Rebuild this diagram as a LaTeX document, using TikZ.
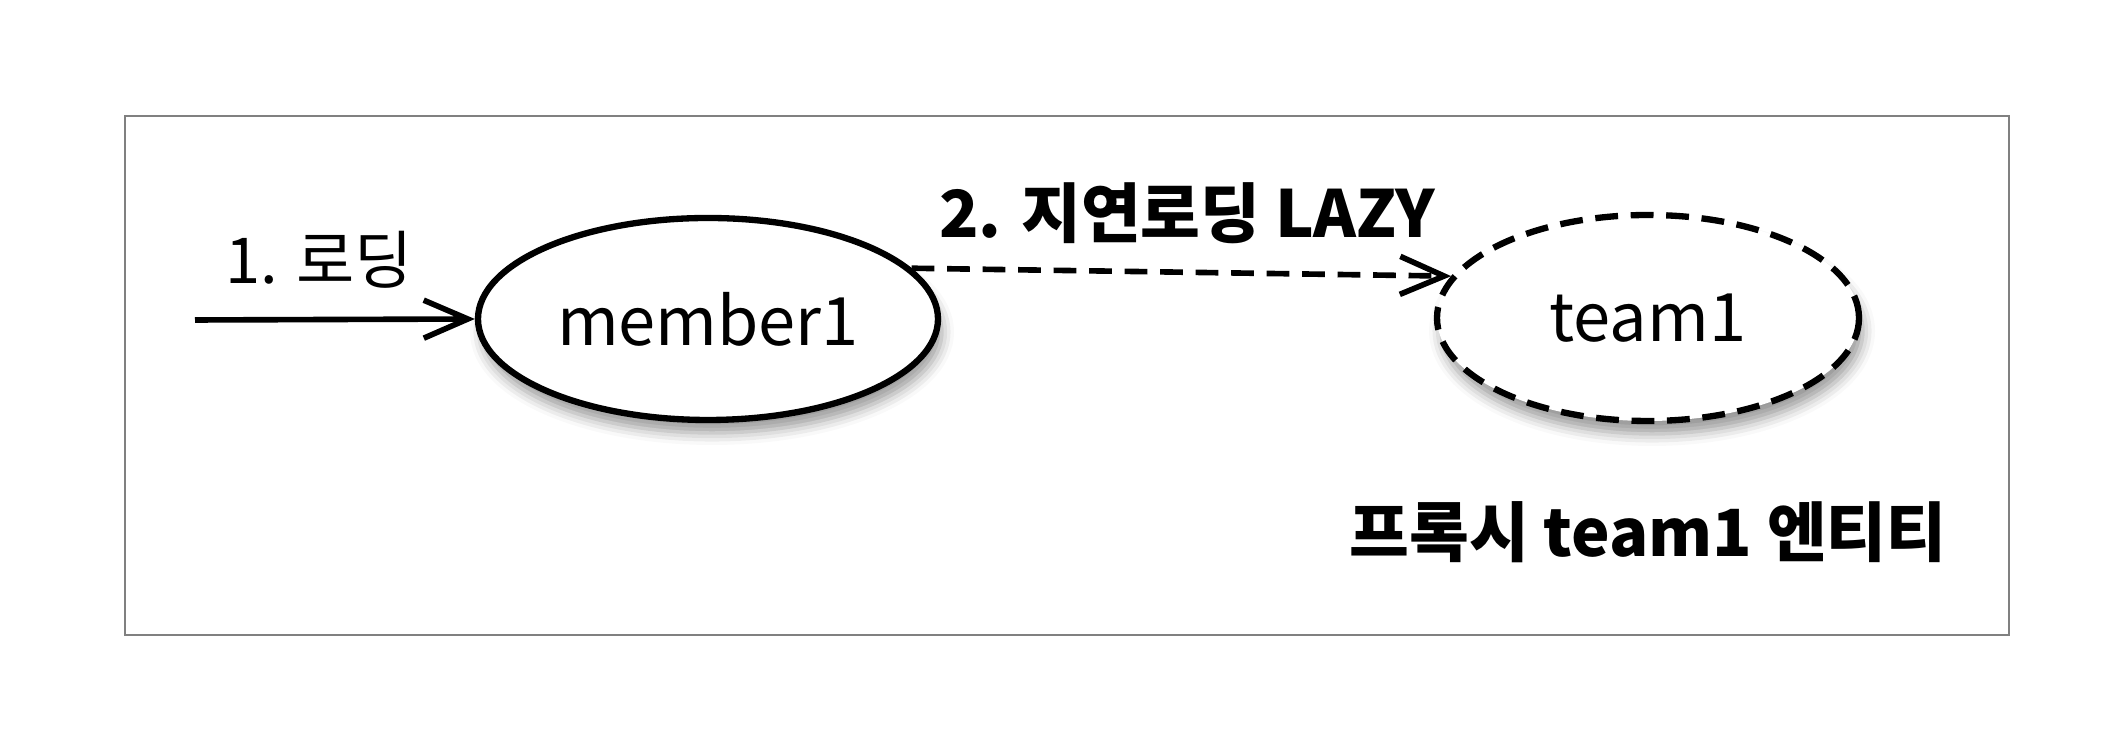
\documentclass[tikz,border=0pt]{standalone}
\usepackage{fontspec}
\setmainfont{Noto Sans CJK KR}
\usetikzlibrary{arrows.meta,shapes.geometric,shadows.blur}
\begin{document}
\begin{tikzpicture}[
        entity/.style={ellipse,draw,line width=1.8pt,fill=white,inner sep=0pt,
            font=\fontsize{19}{22}\selectfont,
            blur shadow={shadow xshift=0.4mm,shadow yshift=-1.3mm,shadow blur radius=1.2mm}},
        label/.style={font=\fontsize{18}{22}\selectfont},
        boldlabel/.style={font=\fontsize{18.5}{22}\selectfont\bfseries},
        >={Straight Barb[length=4.4mm,width=3.8mm,line width=1.6pt]}
    ]
        \useasboundingbox (0,0) rectangle (21.1,7.34);
        \node[draw=black!50,line width=0.6pt,minimum width=18.84cm,minimum height=5.19cm] (frame) at (10.67,3.585) {};
        \node[entity,minimum width=4.6cm,minimum height=2.02cm] (member) at (7.08,4.15) {member1};
        \node[entity,dashed,dash pattern=on 6.5pt off 3.6pt,minimum width=4.22cm,minimum height=2.06cm] (team) at (16.48,4.16) {team1};
        \coordinate (start) at (1.95,4.14);
        \node[label] (load) at (3.19,4.74) {1. 로딩};
        \node[boldlabel] (lazy) at (11.87,5.21) {2. 지연로딩 LAZY};
        \node[boldlabel] (proxy) at (16.48,2.02) {프록시 team1 엔티티};
        \draw[->,line width=1.6pt] (start) to (member.west);
        \draw[->,line width=1.6pt,dash pattern=on 6.5pt off 3.6pt] (member.14) to (team.168);
    \end{tikzpicture}
\end{document}
